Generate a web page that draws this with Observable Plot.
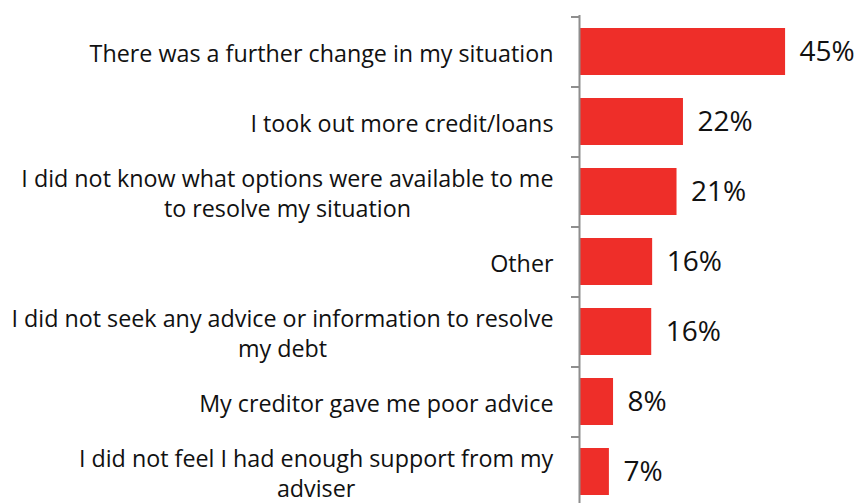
<!DOCTYPE html>
<html>
<head>
<meta charset="utf-8">
<script src="https://cdn.jsdelivr.net/npm/d3@7"></script>
<script src="https://cdn.jsdelivr.net/npm/@observablehq/plot@0.6"></script>
<style>
  html, body { margin: 0; padding: 0; background: #fff; }
  svg { display: block; }
</style>
</head>
<body>
<script>
const categories = [
  "There was a further change in my situation",
  "I took out more credit/loans",
  "I did not know what options were available to me\nto resolve my situation",
  "Other",
  "I did not seek any advice or information to resolve\nmy debt",
  "My creditor gave me poor advice",
  "I did not feel I had enough support from my\nadviser"
];
const values = [44.8, 22.6, 21.2, 15.9, 15.7, 7.4, 6.5];
const valueLabels = ["45%", "22%", "21%", "16%", "16%", "8%", "7%"];

const data = categories.map((c, i) => ({category: c, value: values[i], label: valueLabels[i]}));

const FONT = "'Open Sans', sans-serif";
const GREY = "#8e8e8e";

const svg = Plot.plot({
  width: 859,
  height: 503,
  marginLeft: 579,
  marginRight: 50,
  marginTop: 15,
  marginBottom: -4,
  style: {fontFamily: FONT, color: "#111", background: "#fff"},
  x: {domain: [0, 50], axis: null},
  y: {domain: categories, paddingInner: 0.33, paddingOuter: 0.165, axis: null, label: null},
  marks: [
    Plot.barX(data, {x: "value", y: "category", fill: "#ee2e29"}),
    Plot.ruleX([0], {stroke: GREY, strokeWidth: 2}),
    Plot.axisY({anchor: "left", tickSize: 8, dy: -35, text: null, label: null, stroke: GREY, strokeWidth: 2, strokeOpacity: 1}),
    Plot.axisY({anchor: "left", tickSize: 0, tickPadding: 26, label: null, fontSize: 23.3, lineHeight: 1.3, fill: "#111"}),
    Plot.text(data, {x: "value", y: "category", text: "label", textAnchor: "start", dx: 14, fontSize: 28, fill: "#111"})
  ]
});
document.body.appendChild(svg);

// centre the lines of wrapped category labels on each other (block stays right-aligned)
svg.querySelectorAll("text").forEach(t => {
  const spans = t.querySelectorAll("tspan");
  if (spans.length > 1) {
    const w = t.getBBox().width;
    t.setAttribute("text-anchor", "middle");
    spans.forEach(s => s.setAttribute("x", -w / 2));
  }
});
</script>
</body>
</html>
